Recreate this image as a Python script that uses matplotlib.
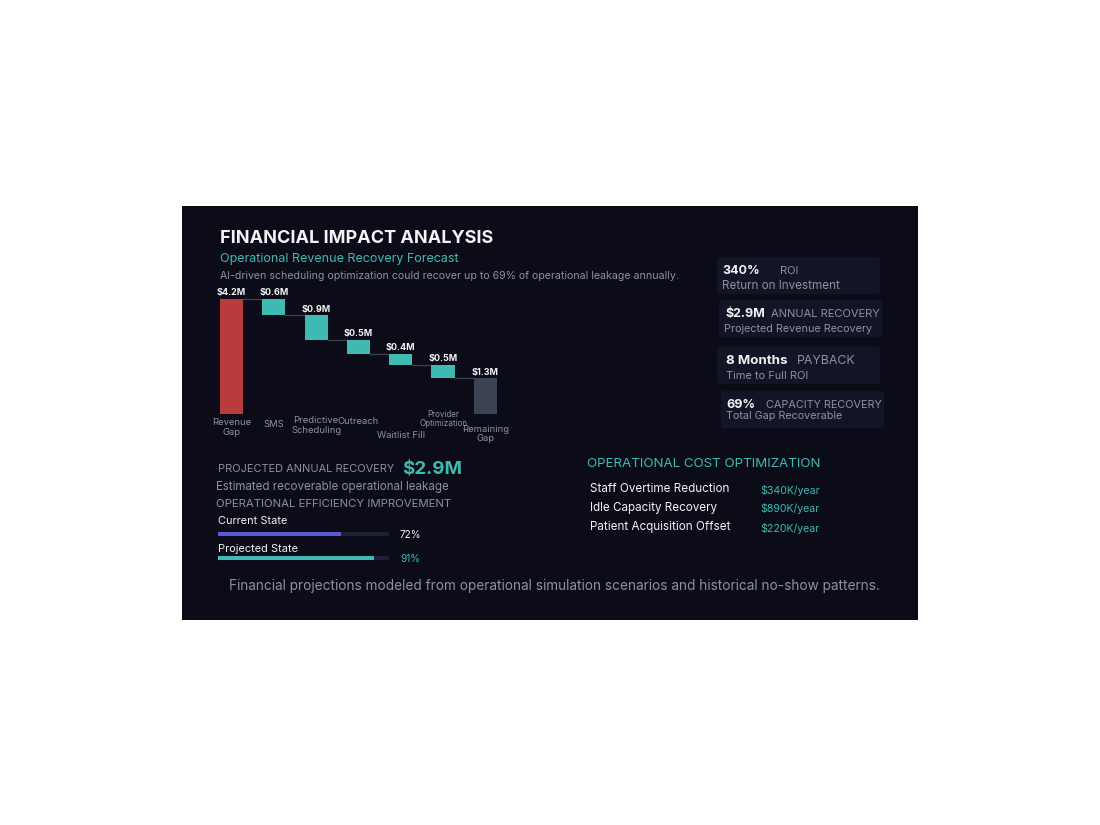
import numpy as np
import matplotlib
matplotlib.use('Agg')
from matplotlib import pyplot as plt
from matplotlib.patches import FancyBboxPatch, Rectangle

plt.rcParams['font.family'] = ['Inter', 'DejaVu Sans']

# %% data
categorias = ['Revenue\nGap', 'SMS', 'Predictive\nScheduling', 'Outreach',
              'Waitlist Fill', 'Provider\nOptimization', 'Remaining\nGap']
valores = [4.2, 0.6, 0.9, 0.5, 0.4, 0.5, 1.3]
rotulos = ['$4.2M', '$0.6M', '$0.9M', '$0.5M', '$0.4M', '$0.5M', '$1.3M']

cards_valor = ['340%', '$2.9M', '8 Months', '69%']
cards_titulo = ['ROI', 'ANNUAL RECOVERY', 'PAYBACK', 'CAPACITY RECOVERY']
cards_sub = ['Return on Investment', 'Projected Revenue Recovery',
             'Time to Full ROI', 'Total Gap Recoverable']

estados = ['Current State', 'Projected State']
eficiencia = [72, 91]

custos_nome = ['Staff Overtime Reduction', 'Idle Capacity Recovery', 'Patient Acquisition Offset']
custos_valor = ['$340K/year', '$890K/year', '$220K/year']

# %% cores
BG = '#0b0c17'
CARD = '#121526'
TEAL = '#3fbab2'
RED = '#b93c3c'
GRAY_BAR = '#3b4252'
TXT_GRAY = '#8d929c'
WHITE = '#f2f3f5'

W, H = 1100, 825
fig = plt.figure(figsize=(11, 8.25), dpi=100, facecolor='white')


def fx(x):
    return x / W


def fy(y):
    return 1 - y / H


def txt(x, y, s, **kw):
    kw.setdefault('va', 'center')
    kw.setdefault('ha', 'left')
    fig.text(fx(x), fy(y), s, **kw)


# painel escuro
fig.patches.append(Rectangle((fx(182), fy(620)), fx(918) - fx(182), fy(206) - fy(620),
                             transform=fig.transFigure, facecolor=BG, edgecolor='none', zorder=-10))

# titulos
txt(220, 238, 'FINANCIAL IMPACT ANALYSIS', color=WHITE, fontsize=13, fontweight='bold')
txt(220, 259, 'Operational Revenue Recovery Forecast', color=TEAL, fontsize=9)
txt(220, 276, 'AI-driven scheduling optimization could recover up to 69% of operational leakage annually.',
    color=TXT_GRAY, fontsize=7.6)

# %% waterfall
L, R = 199.75, 517.2
ax = fig.add_axes([fx(L), fy(414), fx(R) - fx(L), (4.6 * 27.4) / H])
ax.set_facecolor('none')
ax.set_xlim(-0.75, 6.75)
ax.set_ylim(0, 4.6)
ax.axis('off')

n = len(valores)
bases = []
topo = valores[0]
for i, v in enumerate(valores):
    if i == 0 or i == n - 1:
        bases.append(0)
    else:
        topo = topo - v
        bases.append(topo)
cores = [RED] + [TEAL] * (n - 2) + [GRAY_BAR]
largura = 0.55
ax.bar(range(n), valores, bottom=bases, width=largura, color=cores, zorder=2)

# conectores
nivel = valores[0]
for i in range(n - 1):
    ax.plot([i + largura / 2, i + 1 - largura / 2], [nivel, nivel], color='#3a3f4c', lw=1, zorder=1)
    if i + 1 < n - 1:
        nivel = nivel - valores[i + 1]

for i in range(n):
    ax.text(i, bases[i] + valores[i] + 0.06, rotulos[i], ha='center', va='bottom',
            color=WHITE, fontsize=6.5, fontweight='bold', clip_on=False)

# rotulos do eixo x (escalonados como no original)
desloc = [-0.49, -0.38, -0.42, -0.28, -0.78, -0.19, -0.74]
tamanhos = [6.8, 6.8, 6.8, 6.8, 6.8, 5.8, 6.8]
for i in range(n):
    ax.text(i, desloc[i], categorias[i], ha='center', va='center', color=TXT_GRAY,
            fontsize=tamanhos[i], linespacing=1.05, clip_on=False)

# %% cards da direita
card_y = [257, 300, 347, 391]
card_x = [717, 719, 717, 721]
valor_x = [722, 726, 726, 726]
titulo_x = [780, 771, 797, 766]
titulo_fs = [8, 8, 8.9, 7.8]
sub_fs = [8.4, 7.8, 7.9, 7.8]
for i in range(len(cards_valor)):
    x0, y0 = card_x[i], card_y[i]
    fig.patches.append(FancyBboxPatch((fx(x0), fy(y0 + 37)), fx(163), fy(0) - fy(37),
                                      boxstyle='round,pad=0,rounding_size=0.003',
                                      transform=fig.transFigure, facecolor=CARD,
                                      edgecolor='none', zorder=-5))
    txt(valor_x[i], y0 + 14, cards_valor[i], color=WHITE, fontsize=9.6 if i == 2 else 9,
        fontweight='bold')
    txt(titulo_x[i], y0 + 14, cards_titulo[i], color=TXT_GRAY, fontsize=titulo_fs[i])
    txt(valor_x[i] if i != 1 else 724, y0 + 29 if i < 3 else y0 + 25, cards_sub[i],
        color=TXT_GRAY, fontsize=sub_fs[i])

# %% recuperacao anual
txt(218, 469, 'PROJECTED ANNUAL RECOVERY', color=TXT_GRAY, fontsize=7.9)
txt(402, 469, '$2.9M', color=TEAL, fontsize=13.5, fontweight='bold')
txt(216, 487, 'Estimated recoverable operational leakage', color=TXT_GRAY, fontsize=8.3)
txt(216, 504, 'OPERATIONAL EFFICIENCY IMPROVEMENT', color=TXT_GRAY, fontsize=8.2)

cores_barra = ['#5a5ad8', TEAL]
cores_pct = [WHITE, TEAL]
lbl_y = [521, 549]
bar_y = [534, 558]
for i, nome in enumerate(estados):
    txt(218, lbl_y[i], nome, color=WHITE, fontsize=7.9)
    bx = fig.add_axes([fx(218), fy(bar_y[i] + 2), fx(171), 4 / H])
    bx.set_xlim(0, 100)
    bx.set_ylim(0, 1)
    bx.axis('off')
    bx.barh(0.5, 100, height=1, color='#1c2036')
    bx.barh(0.5, eficiencia[i], height=1, color=cores_barra[i])
    txt(400, bar_y[i] + 1, f'{eficiencia[i]}%', color=cores_pct[i], fontsize=7.2)

# %% custos operacionais
txt(587, 464, 'OPERATIONAL COST OPTIMIZATION', color=TEAL, fontsize=9.6)
for i in range(len(custos_nome)):
    y = 489 + i * 19
    txt(590, y, custos_nome[i], color=WHITE, fontsize=8.4)
    txt(760, y + 1, custos_valor[i], color=TEAL, fontsize=7.6)

# rodape
txt(554, 586, 'Financial projections modeled from operational simulation scenarios and historical no-show patterns.',
    color=TXT_GRAY, fontsize=9.8, ha='center')

fig.savefig('out.png', dpi=100, facecolor='white')
